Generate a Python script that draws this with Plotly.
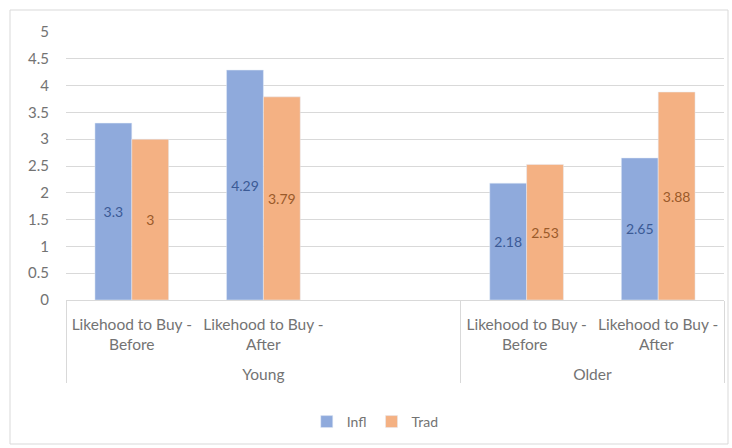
import plotly.graph_objects as go

groups = ["Young", "Young", "Young", "Older", "Older"]
cats = ["Likehood to Buy -<br>Before<br> ", "Likehood to Buy -<br>After<br> ", " ",
        "Likehood to Buy -<br>Before <br> ", "Likehood to Buy -<br>After <br> "]
infl = [3.3, 4.29, None, 2.18, 2.65]
trad = [3.0, 3.79, None, 2.53, 3.88]
infl_text = ["3.3", "4.29", "", "2.18", "2.65"]
trad_text = ["3", "3.79", "", "2.53", "3.88"]
yticks = [0, 0.5, 1, 1.5, 2, 2.5, 3, 3.5, 4, 4.5, 5]

FONT = "Lato"
L, R, T, B = 66, 8, 32, 148
W, H = 732, 448
pw, ph = W - L - R, H - T - B

fig = go.Figure()
fig.add_trace(go.Bar(x=[groups, cats], y=infl, name="Infl", marker_color="#8FAADC",
                     text=infl_text, textposition="inside", insidetextanchor="middle",
                     textfont=dict(color="#3B5A96", size=14, family=FONT), textangle=0))
fig.add_trace(go.Bar(x=[groups, cats], y=trad, name="Trad", marker_color="#F4B183",
                     text=trad_text, textposition="inside", insidetextanchor="middle",
                     textfont=dict(color="#9A5A2A", size=14, family=FONT), textangle=0))

fig.update_layout(
    width=W, height=H,
    margin=dict(l=L, r=R, t=T, b=B, autoexpand=False),
    paper_bgcolor="white", plot_bgcolor="white",
    barmode="group", bargap=0.44, bargroupgap=0,
    font=dict(family=FONT, color="#737373", size=14),
    legend=dict(orientation="h", x=0.47, xanchor="center", y=(300 - 422) / ph,
                yanchor="middle", font=dict(size=14, color="#737373"),
                itemwidth=30, traceorder="normal"),
    showlegend=True,
)
fig.update_xaxes(type="multicategory", showline=True, linecolor="#D9D9D9", linewidth=1,
                 showdividers=True, dividercolor="#D9D9D9", dividerwidth=1,
                 tickfont=dict(size=15.5, color="#737373"), showgrid=False, ticks="",
                 tickangle=0, automargin=False, ticklabelstandoff=10)
fig.update_yaxes(range=[0, 5], tickvals=yticks, ticktext=[f"{v:g}" for v in yticks],
                 showgrid=True, gridcolor="#D9D9D9", gridwidth=1, zeroline=False,
                 showline=False, ticks="", ticklabelstandoff=16, automargin=False,
                 tickfont=dict(size=15, color="#737373"))

# chart border
fig.add_shape(type="rect", xref="paper", yref="paper",
              x0=(10 - L) / pw, x1=(728 - L) / pw,
              y0=(300 - 444) / ph, y1=(300 - 10) / ph,
              line=dict(color="#D9D9D9", width=1), fillcolor="rgba(0,0,0,0)", layer="below")

fig.write_html("out.html")
